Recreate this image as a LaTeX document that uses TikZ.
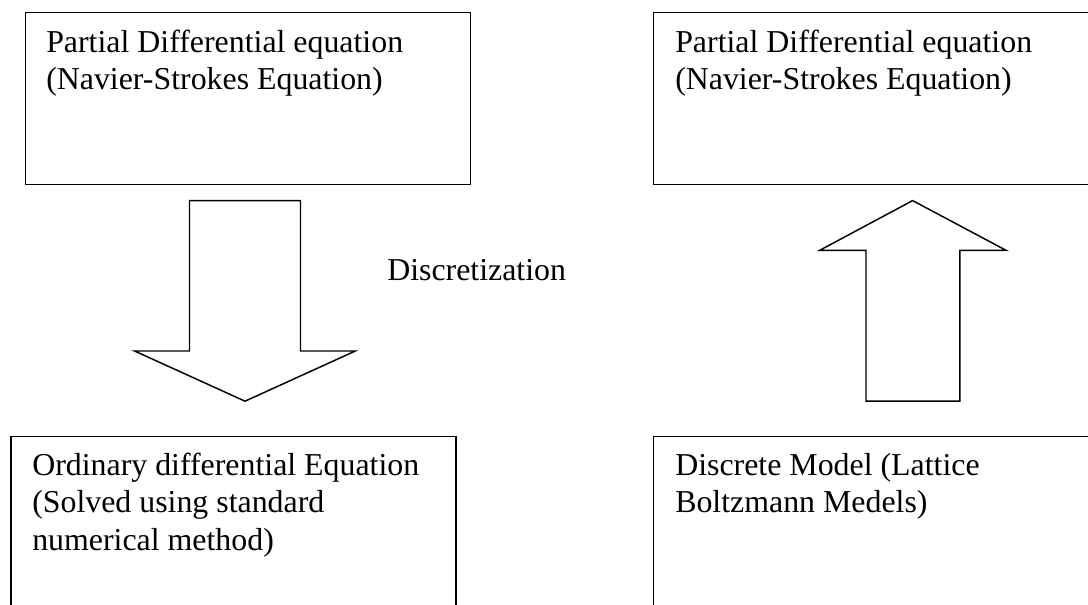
\documentclass[tikz,border=0pt]{standalone}
\usepackage{fontspec}
\setmainfont{Liberation Serif}
\begin{document}
\begin{tikzpicture}[x=0.75pt,y=-0.75pt,
  box/.style={draw=black, line width=1.1pt},
  lbl/.style={anchor=base west, inner sep=0pt, font=\fontsize{23.9}{27.7}\selectfont},
  blockarrow/.style={draw=black, line width=1.1pt, line join=miter}]
\useasboundingbox (0,0) rectangle (1088,605);
\clip (0,0) rectangle (1088,605);
% boxes
\draw[box] (25.7,12.3) rectangle (470.5,184.4);
\draw[box] (653.7,12.3) rectangle (1100,184.4);
\draw[box] (11.1,436.3) rectangle (456,620);
\draw[box] (653.7,436.3) rectangle (1100,620);
% texts
\node[lbl] (tl1) at (46,53) {Partial Differential equation};
\node[lbl] (tl2) at (46,90) {(Navier-Strokes Equation)};
\node[lbl] (tr1) at (675,53) {Partial Differential equation};
\node[lbl] (tr2) at (675,90) {(Navier-Strokes Equation)};
\node[lbl] (bl1) at (32,475) {Ordinary differential Equation};
\node[lbl] (bl2) at (32,512) {(Solved using standard};
\node[lbl] (bl3) at (32,550) {numerical method)};
\node[lbl] (br1) at (675,475) {Discrete Model (Lattice};
\node[lbl] (br2) at (675,512) {Boltzmann Medels)};
\node[lbl] (disc) at (387,281) {Discretization};
% down block arrow
\draw[blockarrow] (189.5,200.6) -- (300.5,200.6) -- (300.5,351) -- (355.3,351)
  -- (245,401.2) -- (134.6,351) -- (189.5,351) -- cycle;
% up block arrow
\draw[blockarrow] (866,401.2) -- (959.8,401.2) -- (959.8,250.4) -- (1006.2,250.4)
  -- (912.6,200.6) -- (819.6,250.4) -- (866,250.4) -- cycle;
\end{tikzpicture}
\end{document}
